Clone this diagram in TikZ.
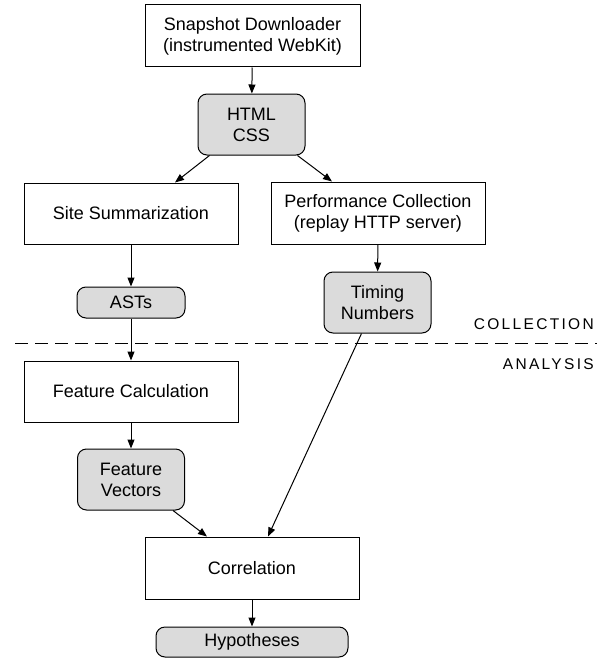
\documentclass[tikz,border=0pt]{standalone}
\usepackage{fontspec}
\setmainfont{Liberation Sans}
\usetikzlibrary{arrows.meta}
\begin{document}
\begin{tikzpicture}[x=1pt,y=-1pt,
  box/.style={draw,line width=1pt,align=center,inner sep=0pt,font=\fontsize{18}{21}\selectfont},
  data/.style={box,fill=black!14,rounded corners=9pt},
  arr/.style={-{Triangle[length=9pt,width=7pt]},line width=1pt},
  lab/.style={font=\fontsize{15.5}{17}\selectfont\addfontfeature{LetterSpace=15},anchor=base east,inner sep=0pt}]
\useasboundingbox (0,0) rectangle (609,661);
\node[box,minimum width=215pt,minimum height=62pt] (snap) at (252.5,36) {Snapshot Downloader\\(instrumented WebKit)};
\node[data,minimum width=107pt,minimum height=61pt] (html) at (251.5,124.5) {HTML\\CSS};
\node[box,minimum width=214pt,minimum height=61pt] (site) at (131,213.5) {Site Summarization};
\node[box,minimum width=214pt,minimum height=62pt] (perf) at (378,213) {Performance Collection\\(replay HTTP server)};
\node[data,minimum width=108pt,minimum height=31pt] (asts) at (131,302.5) {ASTs};
\node[data,minimum width=107pt,minimum height=61pt] (timing) at (377.5,302.5) {Timing\\Numbers};
\coordinate (dl) at (15,343);
\coordinate (dr) at (597,343);
\draw[line width=1pt,dash pattern=on 13pt off 7pt] (dl) -- (dr);
\node[lab] (coll) at (594,329) {COLLECTION};
\node[lab] (anal) at (594,369) {ANALYSIS};
\node[box,minimum width=214pt,minimum height=61pt] (feat) at (131,391.5) {Feature Calculation};
\node[data,minimum width=107pt,minimum height=61pt] (fvec) at (131,479.5) {Feature\\Vectors};
\node[box,minimum width=214pt,minimum height=62pt] (corr) at (252,568) {Correlation};
\node[data,minimum width=192pt,minimum height=30pt] (hyp) at (252,642) {Hypotheses};
\draw[arr] (snap) -- (html);
\draw[arr] ([xshift=12pt]html.south west) -- ([xshift=44pt]site.north);
\draw[arr] ([xshift=-8pt]html.south east) -- ([xshift=-46pt]perf.north);
\draw[arr] (site) -- (asts);
\draw[arr] (perf) -- (timing);
\draw[arr] (asts) -- (feat);
\draw[arr] (feat) -- (fvec);
\draw[arr] ([xshift=-12pt]fvec.south east) -- ([xshift=-45pt]corr.north);
\draw[arr] ([xshift=-16pt]timing.south) -- ([xshift=16pt]corr.north);
\draw[arr] (corr) -- (hyp);
\end{tikzpicture}
\end{document}
